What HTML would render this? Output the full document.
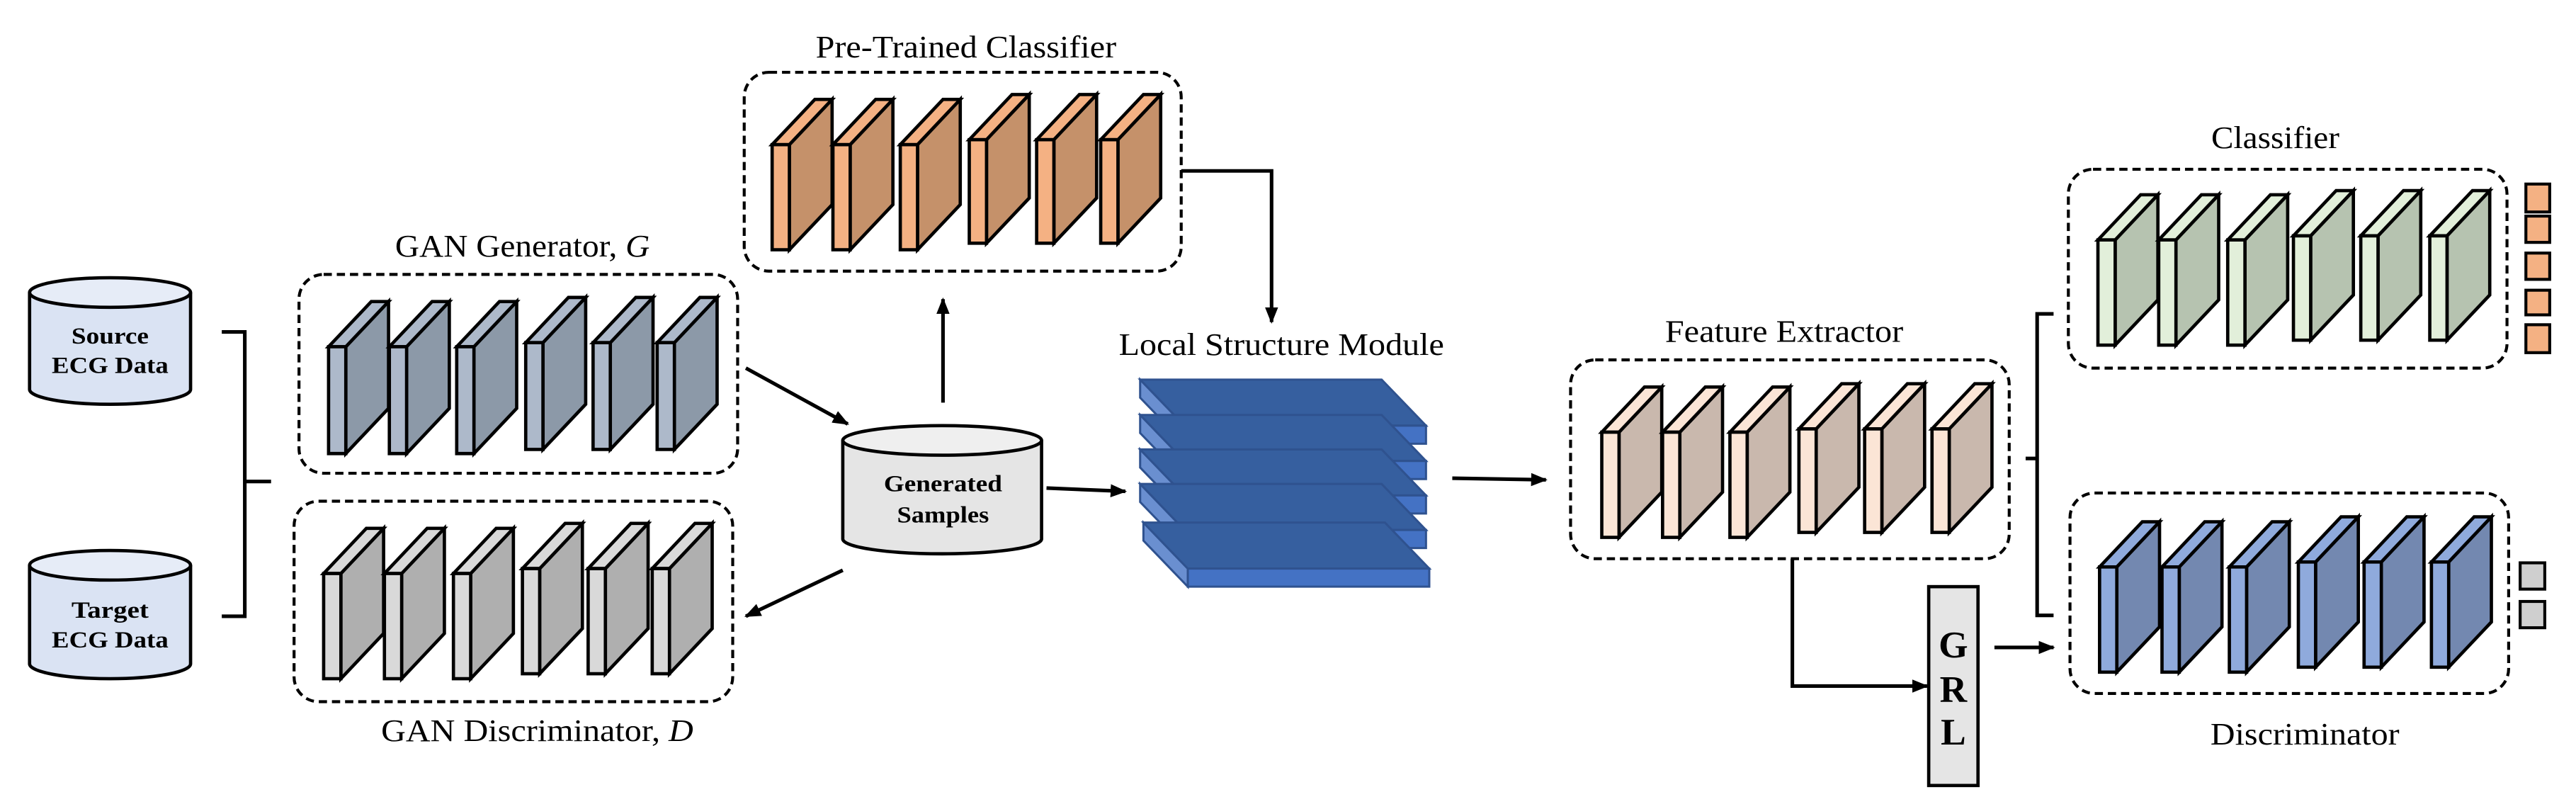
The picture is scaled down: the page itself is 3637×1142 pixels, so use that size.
<!DOCTYPE html>
<html><head><meta charset="utf-8"><style>
html,body{margin:0;padding:0;background:#fff;}
svg{display:block;}
svg text{font-family:"Liberation Serif","Times New Roman",serif !important;fill:#000;}
</style></head><body>
<svg id="s" width="3637" height="1142" viewBox="0 0 1568 492.3" preserveAspectRatio="none" xmlns="http://www.w3.org/2000/svg" font-family="Liberation Serif, serif">
<defs>
<marker id="ah" markerWidth="10" markerHeight="8" refX="9" refY="4" orient="auto" markerUnits="userSpaceOnUse">
<path d="M0,0 L10,4 L0,8 Z" fill="#000"/></marker>
</defs>
<g id="blocks"></g>
<g stroke="#000" stroke-width="2">
<path d="M18,178 V237 A49,9 0 0 0 116,237 V178" fill="#dae3f3"/>
<ellipse cx="67" cy="178" rx="49" ry="9" fill="#e6ecf7"/>
<path d="M18,344 V404 A49,9 0 0 0 116,404 V344" fill="#dae3f3"/>
<ellipse cx="67" cy="344" rx="49" ry="9" fill="#e6ecf7"/>
<path d="M513,268 V328 A60.5,9 0 0 0 634,328 V268" fill="#e5e5e5"/>
<ellipse cx="573.5" cy="268" rx="60.5" ry="9" fill="#efefef"/>
</g>
<g font-weight="bold" font-size="14" text-anchor="middle" font-family="Liberation Serif, serif">
<text x="67" y="209" textLength="47" lengthAdjust="spacingAndGlyphs">Source</text><text x="67" y="227" textLength="71" lengthAdjust="spacingAndGlyphs">ECG Data</text>
<text x="67" y="376" textLength="47" lengthAdjust="spacingAndGlyphs">Target</text><text x="67" y="394" textLength="71" lengthAdjust="spacingAndGlyphs">ECG Data</text>
<text x="574" y="299" textLength="72" lengthAdjust="spacingAndGlyphs">Generated</text><text x="574" y="318" textLength="56" lengthAdjust="spacingAndGlyphs">Samples</text>
</g>
<g fill="none" stroke="#000" stroke-width="1.8" stroke-dasharray="5 3">
<rect x="182" y="167" width="267" height="121" rx="15"/>
<rect x="179" y="305" width="267" height="122" rx="15"/>
<rect x="453" y="44" width="266" height="121" rx="15"/>
<rect x="956" y="219" width="267" height="121" rx="15"/>
<rect x="1259" y="103" width="267" height="121" rx="15"/>
<rect x="1260" y="300" width="267" height="122" rx="15"/>
</g>
<g font-size="19" text-anchor="middle" font-family="Liberation Serif, serif">
<text x="318" y="156" textLength="155" lengthAdjust="spacingAndGlyphs">GAN Generator, <tspan font-style="italic">G</tspan></text>
<text x="327" y="451" textLength="190" lengthAdjust="spacingAndGlyphs">GAN Discriminator, <tspan font-style="italic">D</tspan></text>
<text x="588" y="35" textLength="183" lengthAdjust="spacingAndGlyphs">Pre-Trained Classifier</text>
<text x="780" y="216" textLength="198" lengthAdjust="spacingAndGlyphs">Local Structure Module</text>
<text x="1086" y="208" textLength="145" lengthAdjust="spacingAndGlyphs">Feature Extractor</text>
<text x="1385" y="90" textLength="78" lengthAdjust="spacingAndGlyphs">Classifier</text>
<text x="1403" y="453" textLength="115" lengthAdjust="spacingAndGlyphs">Discriminator</text>
</g>
<g fill="none" stroke="#000" stroke-width="2.2">
<path d="M135,202 H149 V375 H135 M149,293 H165"/>
<path d="M1250,191 H1240 V374.5 H1250 M1240,279 H1233"/>
<path d="M454,224 L516,258" marker-end="url(#ah)"/>
<path d="M574,245 V182" marker-end="url(#ah)"/>
<path d="M719,104 H774 V196" marker-end="url(#ah)"/>
<path d="M637,297 L685,299" marker-end="url(#ah)"/>
<path d="M513,347 L454,375" marker-end="url(#ah)"/>
<path d="M884,291 L941,292" marker-end="url(#ah)"/>
<path d="M1091,340 V417.5 H1173" marker-end="url(#ah)"/>
<path d="M1214,394 H1250" marker-end="url(#ah)"/>
</g>
<rect x="1174" y="357" width="30" height="121" fill="#e5e5e5" stroke="#000" stroke-width="2"/>
<g font-weight="bold" font-size="23" text-anchor="middle" font-family="Liberation Serif, serif">
<text x="1189" y="400">G</text><text x="1189" y="427">R</text><text x="1189" y="453">L</text>
</g>
<g stroke="#000" stroke-width="1.8">
<rect x="1537.5" y="112" width="14.5" height="17" fill="#f4b183"/>
<rect x="1537.5" y="131.5" width="14.5" height="16" fill="#f4b183"/>
<rect x="1537.5" y="154" width="14.5" height="16" fill="#f4b183"/>
<rect x="1537.5" y="176.6" width="14.5" height="15" fill="#f4b183"/>
<rect x="1537.5" y="197.6" width="14.5" height="17" fill="#f4b183"/>
<rect x="1534" y="342.5" width="15" height="16" fill="#cfcfcf"/>
<rect x="1534" y="366" width="15" height="16" fill="#cfcfcf"/>
</g>
<g id="lsm"></g>
</svg>
<script>
var NS="http://www.w3.org/2000/svg";
var g=document.getElementById("blocks");
function poly(pts,fill,parent,stroke,sw){var p=document.createElementNS(NS,"polygon");p.setAttribute("points",pts.map(function(a){return a.join(",")}).join(" "));p.setAttribute("fill",fill);p.setAttribute("stroke",stroke||"#000");p.setAttribute("stroke-width",sw||2);p.setAttribute("stroke-linejoin","miter");(parent||g).appendChild(p);}
function block(x,yt,yb,front,side){var w=10.5,dx=26,dy=27.5;
 poly([[x+w,yt],[x+w+dx,yt-dy],[x+w+dx,yb-dy],[x+w,yb]],side);
 poly([[x,yt],[x+dx,yt-dy],[x+w+dx,yt-dy],[x+w,yt]],front);
 poly([[x,yt],[x+w,yt],[x+w,yb],[x,yb]],front);}
function row(xs,t1,b1,t2,b2,front,side){xs.forEach(function(x,i){var s=i>=3;block(x,s?t2:t1,s?b2:b1,front,side);});}
row([200,237,278,320,361,400],211,276,208.5,273.5,"#adb9ca","#8c99a8");
row([197,234,276,318,358,397],349,413,346,410,"#d9d9d9","#afafaf");
row([470,507,548,590,631,670],88,152,85,148,"#f4b183","#c5916a");
row([975,1012,1053,1095,1135,1176],263,327,261,324,"#fbe5d6","#c9b8ad");
row([1277,1314,1356,1396,1437,1479],146,210,143.5,207,"#e2efda","#b6c3b0");
row([1278,1316,1357,1399,1439,1480],345,409,342,406,"#8faadc","#7388b0");
var L=document.getElementById("lsm");
[259,280.5,301.5,322.5,346].forEach(function(y,i){var o=(i==4)?2:0;
 var x0=694+o,x1=841+o,x2=868+o,x3=721+o,h=11;
 poly([[x0,y-28],[x3,y],[x3,y+h],[x0,y-28+h]],"#6a8fd0",L,"#2f528f",1.3);
 poly([[x0,y-28],[x1,y-28],[x2,y],[x3,y]],"#365f9f",L,"#2f528f",1.3);
 poly([[x3,y],[x2,y],[x2,y+h],[x3,y+h]],"#4472c4",L,"#2f528f",1.3);
});
</script>
</body></html>
